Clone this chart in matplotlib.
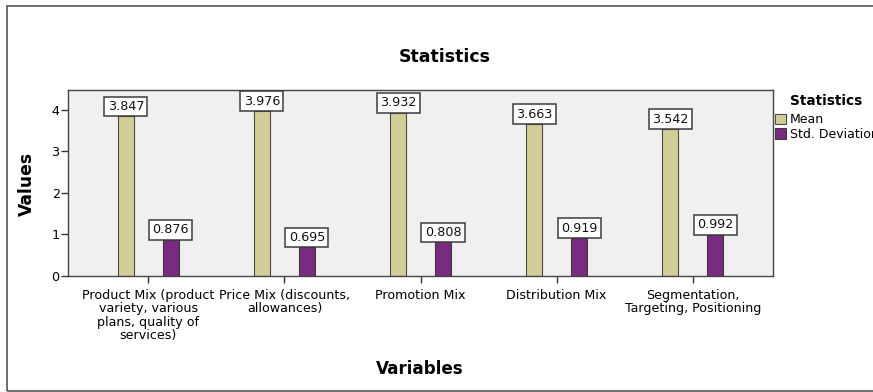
import numpy as np
import matplotlib.pyplot as plt
from matplotlib.patches import Rectangle

# ── Data ───────────────────────────────────────────────────────────────────────
categories = [
    'Product Mix (product\nvariety, various\nplans, quality of\nservices)',
    'Price Mix (discounts,\nallowances)',
    'Promotion Mix',
    'Distribution Mix',
    'Segmentation,\nTargeting, Positioning',
]
mean_vals = [3.847, 3.976, 3.932, 3.663, 3.542]
std_vals = [0.876, 0.695, 0.808, 0.919, 0.992]
series_names = ['Mean', 'Std. Deviation']
y_ticks = [0, 1, 2, 3, 4]

plt.rcParams['font.family'] = ['DejaVu Sans']

fig = plt.figure(figsize=(8.73, 3.92), dpi=100)
ax = fig.add_axes([68 / 873, 1 - 276 / 392, (773 - 68) / 873, (276 - 90) / 392])
ax.set_facecolor('#f0f0f0')

x = np.arange(len(categories))
w = 0.115
off = 0.165
b1 = ax.bar(x - off, mean_vals, w, color='#d3ce97', edgecolor='#4a4a4a', lw=0.8,
            label=series_names[0], zorder=2)
b2 = ax.bar(x + off, std_vals, w, color='#7b2a82', edgecolor='#3a3a3a', lw=0.8,
            label=series_names[1], zorder=2)

# value boxes sitting on top of each bar
lab_fs = 9.2
lab_pad = 0.26
for bars, vals in [(b1, mean_vals), (b2, std_vals)]:
    for r, v in zip(bars, vals):
        ax.annotate(f'{v:.3f}', (r.get_x() + r.get_width() / 2, v),
                    xytext=(0, lab_pad * lab_fs), textcoords='offset points',
                    ha='center', va='bottom', fontsize=lab_fs, color='#111111',
                    bbox=dict(boxstyle=f'square,pad={lab_pad}', fc='white', ec='#3c3c3c', lw=1.1),
                    zorder=4, annotation_clip=False)

ax.set_xlim(-0.59, len(categories) - 1 + 0.59)
ax.set_ylim(0, 4.48)
ax.set_yticks(y_ticks)
ax.set_xticks(x)
ax.set_xticklabels(categories, fontsize=9.1, linespacing=1.02)
ax.tick_params(axis='y', labelsize=9.2, length=5, width=1, color='#333333', pad=1)
ax.tick_params(axis='x', length=5, width=1, color='#333333', pad=4.5)
for s in ax.spines.values():
    s.set_color('#444444')
    s.set_linewidth(1)

fig.text(445 / 873, 1 - 57 / 392, 'Statistics', ha='center', va='center',
         fontsize=12.5, fontweight='bold')
fig.text(27 / 873, 1 - 184 / 392, 'Values', ha='center', va='center',
         rotation=90, fontsize=12.3, fontweight='bold')
fig.text(420 / 873, 1 - 369 / 392, 'Variables', ha='center', va='center',
         fontsize=12.1, fontweight='bold')

# legend: heading drawn separately so it sits indented past the swatches
fig.text(790 / 873, 1 - 101 / 392, 'Statistics', ha='left', va='center',
         fontsize=9.8, fontweight='bold')
h, l = ax.get_legend_handles_labels()
fig.legend(h, l, loc='upper left', bbox_to_anchor=(775 / 873, 1 - 113 / 392),
           frameon=False, fontsize=9, handlelength=0.9, handleheight=0.9,
           handletextpad=0.3, labelspacing=0.15, borderpad=0, borderaxespad=0)

# outer chart frame
fig.patches.append(Rectangle((7 / 873, 1.5 / 392), 1.0, 384.5 / 392, transform=fig.transFigure,
                             fill=False, ec='#555555', lw=1.2, clip_on=False))

fig.savefig('out.png', dpi=100)
